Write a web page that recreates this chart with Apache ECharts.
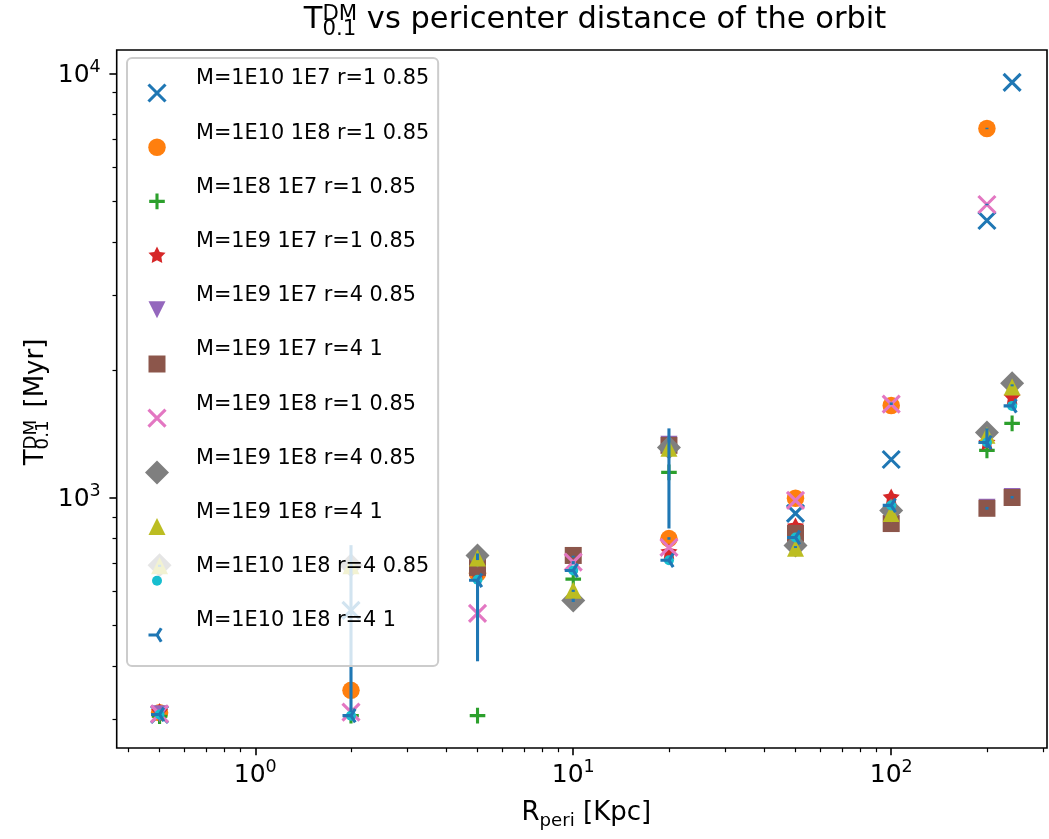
<!DOCTYPE html>
<html><head><meta charset="utf-8">
<script src="https://cdn.jsdelivr.net/npm/echarts@6/dist/echarts.min.js"></script>
<style>html,body{margin:0;padding:0;background:#fff}#c{width:1049px;height:839px}</style>
</head><body><div id="c"></div>
<script>
// ---------------- data ----------------
const xValues = [0.5, 2, 5, 10, 20, 50, 100, 200, 240];
const seriesNames = [
  'M=1E10 1E7 r=1 0.85', 'M=1E10 1E8 r=1 0.85', 'M=1E8 1E7 r=1 0.85', 'M=1E9 1E7 r=1 0.85',
  'M=1E9 1E7 r=4 0.85', 'M=1E9 1E7 r=4 1', 'M=1E9 1E8 r=1 0.85', 'M=1E9 1E8 r=4 0.85',
  'M=1E9 1E8 r=4 1', 'M=1E10 1E8 r=4 0.85', 'M=1E10 1E8 r=4 1'
];
const s1  = [308, 542, null, null, null, 917, 1229, 4497, 9519];
const s2  = [311, 351, 663, null, 800, 996, 1648, 7408, null];
const s3  = [305, 306, 306, 642, 1146, null, null, 1291, 1495];
const s4  = [312, 690, 673, null, 743, 854, 1000, 1345, 1720];
const s5  = [309, null, null, null, 1335, null, null, 948, 1005];
const s6  = [null, null, 684, 730, 1327, 823, 868, 943, 1000];
const s7  = [309, 312, 533, 704, 763, 984, 1660, 4905, null];
const s8  = [692, 692, 730, 572, 1312, 771, 932, 1422, 1858];
const s9  = [690, 690, 720, 604, 1306, 759, 917, 1401, 1821];
const s10 = [308, 306, 640, 673, 711, 805, 958, 1348, 1644];
const s11 = [308, 306, 638, 673, 711, 805, 958, 1348, 1644];
const seriesValues = [s1, s2, s3, s4, s5, s6, s7, s8, s9, s10, s11];

// error bars (all drawn in blue)
const errX    = [2, 5, 20, 0.5, 2, 5, 10, 10, 10, 10, 20, 50, 100, 200, 200, 200, 200, 240, 240];
const errLow  = [312, 411, 845, 686, 686, 712, 567, 599, 696, 722, 795, 760, 1652, 7380, 4885, 936, 1310, 1828, 994];
const errHigh = [772, 638, 1455, 694, 694, 738, 577, 606, 708, 729, 806, 768, 1675, 7440, 4925, 950, 1455, 1848, 1008];

// axes / ticks
const xMin = 0.3666, xMax = 309;
const yMin = 256.7, yMax = 11346;
const xMajorTicks = [1, 10, 100];
const xMinorTicks = [0.4, 0.5, 0.6, 0.7, 0.8, 0.9, 2, 3, 4, 5, 6, 7, 8, 9, 20, 30, 40, 50, 60, 70, 80, 90, 200, 300];
const yMajorTicks = [1000, 10000];
const yMinorTicks = [300, 400, 500, 600, 700, 800, 900, 2000, 3000, 4000, 5000, 6000, 7000, 8000, 9000];

// ---------------- styling ----------------
const colors = ['#1f77b4', '#ff7f0e', '#2ca02c', '#d62728', '#9467bd', '#8c564b', '#e377c2', '#7f7f7f', '#bcbd22', '#17becf', '#1f77b4'];
const FRAME = 'M0 0 L0 0 M24 24 L24 24 ';
const shapes = [
  'M4.6 2.4 L21.6 19.4 L19.4 21.6 L2.4 4.6 Z M21.6 4.6 L4.6 21.6 L2.4 19.4 L19.4 2.4 Z',
  'M3.25 12 A8.75 8.75 0 1 0 20.75 12 A8.75 8.75 0 1 0 3.25 12 Z',
  'M4.2 10.45 L19.8 10.45 L19.8 13.55 L4.2 13.55 Z M10.45 4.2 L13.55 4.2 L13.55 19.8 L10.45 19.8 Z',
  'M12 3 L14.704 8.279 L20.56 9.219 L16.375 13.421 L17.29 19.281 L12 16.6 L6.71 19.281 L7.625 13.421 L3.44 9.219 L9.296 8.279 Z',
  'M3.5 3.5 L20.5 3.5 L12 20.5 Z',
  'M3.5 3.5 L20.5 3.5 L20.5 20.5 L3.5 20.5 Z',
  'M4.6 2.4 L21.6 19.4 L19.4 21.6 L2.4 4.6 Z M21.6 4.6 L4.6 21.6 L2.4 19.4 L19.4 2.4 Z',
  'M12 0 L24 12 L12 24 L0 12 Z',
  'M12 3.5 L20.5 20.5 L3.5 20.5 Z',
  'M7 12 A5 5 0 1 0 17 12 A5 5 0 1 0 7 12 Z',
  'M12 13.55 L3.5 13.55 L3.5 10.45 L12 10.45 Z M10.686 11.178 L14.936 4.378 L17.564 6.022 L13.314 12.822 Z M13.314 11.178 L17.564 17.978 L14.936 19.622 L10.686 12.822 Z'
];
const FONT = 'DejaVu Sans';
const TICK_FS = 25, SUP_FS = 17.5;
const TITLE_FS = 30.5, TITLE_SFS = 21.3;
const LABEL_FS = 26, LABEL_SFS = 18.2;
const lg = Math.log10;

const tickRich = {
  b: {fontFamily: FONT, fontSize: TICK_FS, color: '#000', lineHeight: 30, verticalAlign: 'bottom'},
  s: {fontFamily: FONT, fontSize: SUP_FS, color: '#000', lineHeight: 22, verticalAlign: 'top'}
};
const tickFormatter = v => '{b|10}{s|' + Math.round(v) + '}';
const tickLine = {color: '#000', width: 1.6};
const minorLine = {color: '#000', width: 1.2};

// ---------------- text measuring for math labels ----------------
const mctx = document.createElement('canvas').getContext('2d');
function tw(t, fs) { mctx.font = fs + 'px "' + FONT + '"'; return mctx.measureText(t).width; }
function mathParts(base, sub, sup, rest, F, S, cx, B, supUp, subDown, gap) {
  const wb = tw(base, F), ws = Math.max(tw(sub, S), tw(sup, S)) + gap, wr = tw(rest, F);
  const x0 = cx - (wb + ws + wr) / 2;
  const mk = (t, x, baseline, fs) => ({
    type: 'text', x: x, y: baseline - 0.346 * fs,
    style: {text: t, fontFamily: FONT, fontSize: fs, fill: '#000', align: 'left', verticalAlign: 'middle'}
  });
  return [
    mk(base, x0, B, F),
    mk(sup, x0 + wb, B - supUp, S),
    mk(sub, x0 + wb, B + subDown, S),
    mk(rest, x0 + wb + ws, B, F)
  ];
}

// ---------------- chart ----------------
const chart = echarts.init(document.getElementById('c'), null, {renderer: 'canvas'});

const scatterSeries = seriesNames.map((name, i) => ({
  name: name, type: 'scatter', xAxisIndex: 0, yAxisIndex: 0,
  symbol: 'path://' + FRAME + shapes[i], symbolSize: 24, symbolKeepAspect: true,
  itemStyle: {color: colors[i], opacity: 1},
  emphasis: {disabled: true}, silent: true,
  data: xValues.map((x, j) => seriesValues[i][j] == null ? null : [x, seriesValues[i][j]]).filter(d => d)
}));

const errSeries = {
  name: 'err', type: 'custom', xAxisIndex: 0, yAxisIndex: 0, silent: true, z: 3,
  data: errX.map((x, i) => [x, errLow[i], errHigh[i]]),
  encode: {x: 0, y: [1, 2]},
  renderItem: (params, api) => {
    const p1 = api.coord([api.value(0), api.value(1)]);
    const p2 = api.coord([api.value(0), api.value(2)]);
    return {type: 'line', shape: {x1: p1[0], y1: p1[1], x2: p2[0], y2: p2[1]},
            style: {stroke: '#1f77b4', lineWidth: 3.1, lineCap: 'butt'}};
  }
};

const option = {
  animation: false,
  backgroundColor: '#fff',
  grid: {left: 116.7, right: 2, top: 50, bottom: 91, show: true, borderColor: '#000', borderWidth: 1.6, backgroundColor: 'transparent'},
  xAxis: [
    {type: 'log', logBase: 10, min: xMin, max: xMax, show: false},
    {type: 'value', min: lg(xMin), max: lg(xMax), position: 'bottom',
     axisLine: {show: false, onZero: false}, splitLine: {show: false},
     axisTick: {show: true, length: 7.3, customValues: xMajorTicks.map(lg), lineStyle: tickLine},
     axisLabel: {show: true, customValues: xMajorTicks.map(lg), margin: 10, formatter: tickFormatter, rich: tickRich},
     name: '{b|R}{s|peri}{b| [Kpc]}', nameLocation: 'middle', nameGap: 52,
     nameTextStyle: {padding: [0, 0, 0, 9], rich: {
       b: {fontFamily: FONT, fontSize: LABEL_FS, color: '#000', lineHeight: 30, verticalAlign: 'top'},
       s: {fontFamily: FONT, fontSize: LABEL_SFS, color: '#000', lineHeight: 16, verticalAlign: 'bottom'}}}},
    {type: 'value', min: lg(xMin), max: lg(xMax), position: 'bottom',
     axisLine: {show: false, onZero: false}, splitLine: {show: false}, axisLabel: {show: false},
     axisTick: {show: true, length: 4.2, customValues: xMinorTicks.map(lg), lineStyle: minorLine}}
  ],
  yAxis: [
    {type: 'log', logBase: 10, min: yMin, max: yMax, show: false},
    {type: 'value', min: lg(yMin), max: lg(yMax), position: 'left',
     axisLine: {show: false, onZero: false}, splitLine: {show: false},
     axisTick: {show: true, length: 7.3, customValues: yMajorTicks.map(lg), lineStyle: tickLine},
     axisLabel: {show: true, customValues: yMajorTicks.map(lg), margin: 16, formatter: tickFormatter, rich: tickRich}},
    {type: 'value', min: lg(yMin), max: lg(yMax), position: 'left',
     axisLine: {show: false, onZero: false}, splitLine: {show: false}, axisLabel: {show: false},
     axisTick: {show: true, length: 4.2, customValues: yMinorTicks.map(lg), lineStyle: minorLine}}
  ],
  legend: {
    orient: 'vertical', left: 127, top: 58, padding: [9, 9, 19, 18],
    itemWidth: 24, itemHeight: 24, itemGap: 16.2, selectedMode: false,
    backgroundColor: 'rgba(255,255,255,0.8)', borderColor: '#cccccc', borderWidth: 2, borderRadius: 5,
    formatter: name => '{t|' + name + '}',
    textStyle: {fontFamily: FONT, fontSize: 20.8, color: '#000', padding: [0, 0, 0, 22],
      rich: {t: {fontFamily: FONT, fontSize: 20.8, color: '#000', height: 24, lineHeight: 52, verticalAlign: 'top'}}},
    data: seriesNames
  },
  graphic: [
    {type: 'group', children: mathParts('T', '0.1', 'DM', ' vs pericenter distance of the orbit', TITLE_FS, TITLE_SFS, 595, 31, 9, 6, 0)},
    {type: 'group', x: 37, y: 402, rotation: Math.PI / 2,
     children: mathParts('T', '0.1', 'DM', ' [Myr]', LABEL_FS, LABEL_SFS, 0, 8, 7.5, 5, 4)}
  ],
  series: scatterSeries.concat([errSeries])
};
chart.setOption(option);
</script>
</body></html>
